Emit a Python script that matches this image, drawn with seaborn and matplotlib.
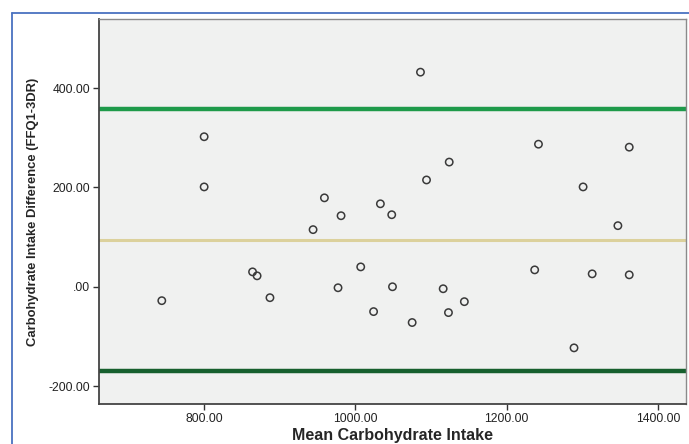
import matplotlib
matplotlib.use("Agg")
import matplotlib.pyplot as plt
import seaborn as sns
import pandas as pd
from matplotlib.lines import Line2D

# Bland-Altman style data
mean_intake = [744, 800, 800, 864, 870, 887, 944, 959, 977, 981,
               1007, 1024, 1033, 1048, 1049, 1075, 1086, 1094, 1116, 1123,
               1124, 1144, 1237, 1242, 1289, 1301, 1313, 1347, 1362, 1362]
difference = [-28, 302, 201, 30, 22, -22, 115, 179, -2, 143,
              40, -50, 167, 145, 0, -72, 432, 215, -4, -52,
              251, -30, 34, 287, -123, 201, 26, 123, 281, 24]
upper_limit = 358
mean_diff = 94
lower_limit = -170

x_ticks = [800, 1000, 1200, 1400]
x_labels = ["800.00", "1000.00", "1200.00", "1400.00"]
y_ticks = [-200, 0, 200, 400]
y_labels = ["-200.00", ".00", "200.00", "400.00"]

df = pd.DataFrame({"mean": mean_intake, "diff": difference})

sns.set_style("white")
plt.rcParams['font.family'] = ['Liberation Sans', 'DejaVu Sans']

fig = plt.figure(figsize=(6.89, 4.44), dpi=100)
ax = fig.add_axes([0.1437, 0.0901, 0.8519, 0.8671])
ax.set_facecolor("#f0f1f0")

ax.axhline(upper_limit, color="#1e9a4a", lw=3.2, zorder=1)
ax.axhline(mean_diff, color="#dcd19c", lw=2.2, zorder=1)
ax.axhline(lower_limit, color="#17602e", lw=3.2, zorder=1)

sns.scatterplot(data=df, x="mean", y="diff", ax=ax, marker="o", s=28,
                facecolor="none", edgecolor="#3a3a3a", linewidth=1.1, zorder=3)

ax.set_xlim(661, 1437)
ax.set_ylim(-236, 539)
ax.set_xticks(x_ticks)
ax.set_xticklabels(x_labels)
ax.set_yticks(y_ticks)
ax.set_yticklabels(y_labels)
ax.tick_params(axis="both", direction="out", length=4, width=1, color="#333333",
               labelsize=8.7, labelcolor="#222222", bottom=True, left=True, pad=2.5)

for side in ["top", "right"]:
    ax.spines[side].set_color("#8a8a8a")
    ax.spines[side].set_linewidth(1.0)
for side in ["left", "bottom"]:
    ax.spines[side].set_color("#444444")
    ax.spines[side].set_linewidth(1.3)

ax.set_xlabel("Mean Carbohydrate Intake", fontsize=11.5, fontweight="bold", labelpad=2.5)
ax.set_ylabel("Carbohydrate Intake Difference (FFQ1-3DR)", fontsize=9.4,
              fontweight="bold", labelpad=7)

# blue frame around the figure (left and top edges visible)
fig.add_artist(Line2D([12 / 689, 12 / 689], [0, 1 - 13 / 444], color="#4a72c0", lw=1.3,
                      transform=fig.transFigure))
fig.add_artist(Line2D([12 / 689, 1], [1 - 13 / 444, 1 - 13 / 444], color="#4a72c0", lw=1.3,
                      transform=fig.transFigure))

fig.savefig("out.png", dpi=100)
